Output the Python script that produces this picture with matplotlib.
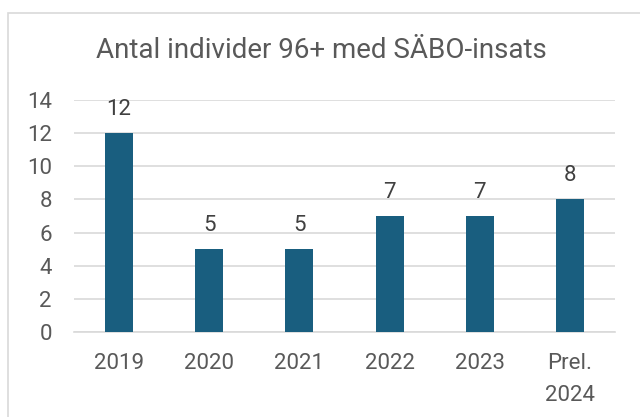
import matplotlib.pyplot as plt
from matplotlib.patches import Rectangle

categories = ["2019", "2020", "2021", "2022", "2023", "Prel.\n2024"]
values = [12, 5, 5, 7, 7, 8]
yticks = [0, 2, 4, 6, 8, 10, 12, 14]

plt.rcParams['font.family'] = ['Roboto', 'DejaVu Sans']

fig = plt.figure(figsize=(6.4, 4.17), dpi=100)
fig.patch.set_facecolor('white')
fig.patches.append(Rectangle((8/640, -0.1), 1.2, 1 - 13/417 + 0.1, transform=fig.transFigure,
                             fill=False, edgecolor='#d9d9d9', linewidth=1.2))

ax = fig.add_axes([74/640, 1 - 332/417, (615 - 74)/640, (332 - 100)/417])
x = range(len(categories))
ax.bar(x, values, width=0.31, color='#195e7f', zorder=3)
ax.set_xlim(-0.5, len(categories) - 0.5)
ax.set_ylim(0, 14)
ax.set_yticks(yticks)
ax.set_xticks(list(x))
ax.set_xticklabels(categories, linespacing=1.7)
ax.grid(axis='y', color='#d9d9d9', linewidth=1.2, zorder=0)
for s in ['top', 'right', 'left']:
    ax.spines[s].set_visible(False)
ax.spines['bottom'].set_color('#d9d9d9')
ax.spines['bottom'].set_linewidth(1.2)
ax.tick_params(axis='both', length=0, labelsize=16, labelcolor='#595959')
ax.tick_params(axis='x', pad=15)
ax.tick_params(axis='y', pad=16)
for xi, v in zip(x, values):
    ax.annotate(str(v), (xi, v), xytext=(0, 13), textcoords='offset points',
                ha='center', va='baseline', fontsize=16, color='#404040')

fig.text(321/640, 1 - 50/417, "Antal individer 96+ med SÄBO-insats", ha='center', va='center',
         fontsize=20, color='#595959')

fig.savefig('out.png', dpi=100)
